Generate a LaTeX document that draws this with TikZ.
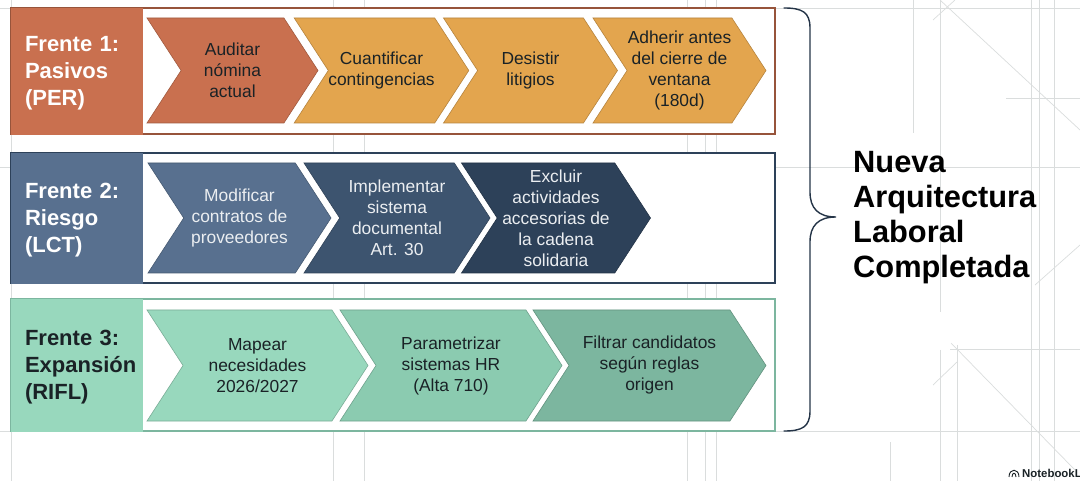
\documentclass[tikz,border=0pt]{standalone}
\usepackage{fontspec}
\setmainfont{Liberation Sans}
\usepackage{xcolor}
\usetikzlibrary{positioning,shapes.symbols}
\definecolor{rustc}{HTML}{C9704F}
\definecolor{orangec}{HTML}{E3A54E}
\definecolor{bluea}{HTML}{58708F}
\definecolor{blueb}{HTML}{3D546F}
\definecolor{bluec}{HTML}{2D4159}
\definecolor{greena}{HTML}{98D8BD}
\definecolor{greenb}{HTML}{8BCBB0}
\definecolor{greenc}{HTML}{7CB69F}
\definecolor{inkc}{HTML}{1A2226}
\definecolor{gridc}{HTML}{DADDDD}
\newcommand{\hdline}[1]{\hspace*{12pt}#1}
\tikzset{
  panel/.style={draw=#1,line width=1.3pt,fill=white,minimum width=764pt,inner sep=0pt},
  head/.style={fill=#1,draw=#1,minimum width=131pt,text width=127pt,inner xsep=2pt,inner ysep=0pt,
    align=left,font=\fontsize{22}{27}\selectfont\bfseries,text=white,
    execute at begin node={\rule{0pt}{20.5pt}}},
  chevron/.style={signal,signal from=west,signal to=east,signal pointer angle=114,inner sep=0pt,
    fill=#1,draw=#1!80!black,line width=.6pt,align=center,text=inkc,
    font=\fontsize{17.4}{21}\selectfont},
  guide/.style={draw=gridc,line width=.7pt}
}
\begin{document}
\begin{tikzpicture}[x=1pt,y=-1pt,node distance=149pt,on grid]
   \useasboundingbox (0,0) rectangle (1080,481);
   % background lines
   \foreach \x in {11,333,364,687,705,716,1031,1039,1054}
     \draw[guide] (\x,0) -- (\x,481);
   \foreach \y in {8,167,431}
     \draw[guide] (0,\y) -- (1080,\y);
   \draw[guide] (913,0) -- (913,133);
   \draw[guide] (940,0) -- (940,312);
   \draw[guide] (940,350) -- (940,481);
   \draw[guide] (957,345) -- (957,481);
   \draw[guide] (890,442) -- (890,481);
   \draw[guide] (1006,98) -- (1080,98);
   \draw[guide] (950,349) -- (1080,349);
   \draw[guide] (940,0) -- (1080,130);
   \draw[guide] (951,343) -- (1075,470);
   \draw[guide] (1035,285) -- (1080,245);
   \draw[guide] (933,20) -- (955,0);
   \draw[guide] (933,385) -- (957,362);

   % first row
   \node[panel=rustc!75!black,minimum height=126pt] (row1) at (393,71) {};
   \node[head=rustc,minimum height=126pt] (head1) at (76.5,71) {\hdline{Frente 1:}\\\hdline{Pasivos}\\\hdline{(PER)}};
   \node[chevron=rustc,minimum width=171pt,minimum height=105pt] (audit) at (232.5,70.5) {Auditar\\nómina\\actual};
   \node[chevron=orangec,minimum width=173pt,minimum height=105pt] (quant) [right=of audit] {Cuantificar\\contingencias};
   \node[chevron=orangec,minimum width=174pt,minimum height=105pt] (desist) [right=of quant] {Desistir\\litigios};
   \node[chevron=orangec,minimum width=173pt,minimum height=105pt] (adher) [right=of desist] {Adherir antes\\del cierre de\\ventana\\(180d)};

   % second row
   \node[panel=bluec,minimum height=130pt] (row2) at (393,218) {};
   \node[head=bluea,minimum height=130pt] (head2) at (76.5,218) {\hdline{Frente 2:}\\\hdline{Riesgo}\\\hdline{(LCT)}};
   \node[chevron=bluea,text=white!88!bluea,minimum width=183pt,minimum height=110pt] (modif) at (239.5,218) {Modificar\\contratos de\\proveedores};
   \node[chevron=blueb,text=white!88!bluea,minimum width=186pt,minimum height=110pt] (impl) [right=157.5pt of modif] {Implementar\\sistema\\documental\\Art. 30};
   \node[chevron=bluec,text=white!88!bluea,minimum width=189pt,minimum height=110pt] (excl) [right=159pt of impl] {Excluir\\actividades\\accesorias de\\la cadena\\solidaria};

   % third row
   \node[panel=greenc,minimum height=132pt] (row3) at (393,365) {};
   \node[head=greena,text=inkc,minimum height=132pt] (head3) at (76.5,365) {\hdline{Frente 3:}\\\hdline{Expansión}\\\hdline{(RIFL)}};
   \node[chevron=greena,minimum width=221pt,minimum height=111pt] (mapear) at (257.5,365.5) {Mapear\\necesidades\\2026/2027};
   \node[chevron=greenb,minimum width=222pt,minimum height=111pt] (param) [right=193.5pt of mapear] {Parametrizar\\sistemas HR\\(Alta 710)};
   \node[chevron=greenc,minimum width=233pt,minimum height=111pt] (filtrar) [right=198.5pt of param] {Filtrar candidatos\\según reglas\\origen};

   % brace and result
   \coordinate (bracetop) at (784,8);
   \coordinate (bracetip) at (836,217);
   \coordinate (bracebot) at (784,431);
   \draw[bluec!80!black,line width=1.4pt,line cap=round]
     (bracetop) .. controls (802,8) and (810,12) .. (810,28) -- (810,192)
     .. controls (810,208) and (818,217) .. (bracetip)
     .. controls (818,217) and (810,226) .. (810,242) -- (810,411)
     .. controls (810,427) and (802,431) .. (bracebot);
   \node[align=left,anchor=west,inner sep=0pt,text=black,
     font=\fontsize{30.8}{35}\selectfont\bfseries] (result) at (853,218)
     {Nueva\\Arquitectura\\Laboral\\Completada};

   \node[anchor=west,inner sep=0pt,text=inkc,font=\fontsize{11.4}{12}\selectfont\bfseries] (brand) at (1022,473) {NotebookL};
   \draw[inkc,line width=.9pt] (1009,477) .. controls (1009,468) and (1019,468) .. (1019,477);
   \draw[inkc,line width=.9pt] (1012,477) .. controls (1012,472) and (1016,472) .. (1016,477);
\end{tikzpicture}
\end{document}
